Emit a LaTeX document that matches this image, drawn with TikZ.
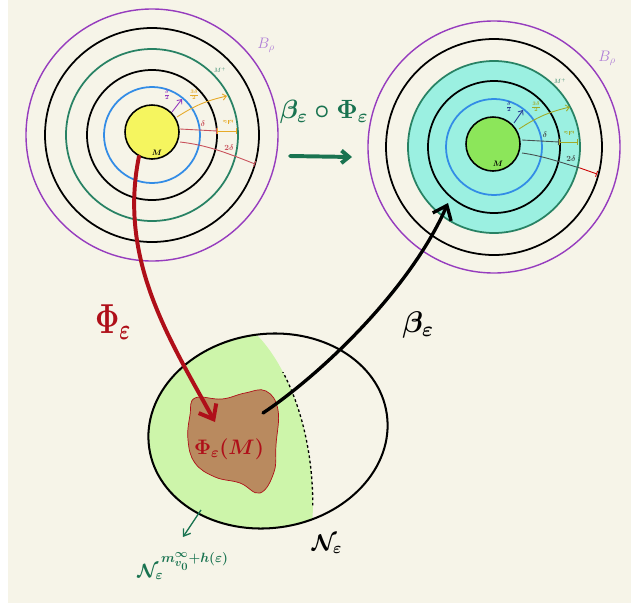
\documentclass[tikz,border=0pt]{standalone}
\usepackage{amsmath,amssymb}
\usepackage{xcolor}
\usetikzlibrary{arrows.meta,positioning,calc}
\definecolor{paper}{RGB}{246,244,232}
\definecolor{ringpurple}{RGB}{150,60,190}
\definecolor{lblpurple}{RGB}{175,125,215}
\definecolor{ringgreen}{RGB}{40,130,100}
\definecolor{ringblue}{RGB}{50,140,230}
\definecolor{diskyellow}{RGB}{245,245,95}
\definecolor{disklime}{RGB}{140,230,90}
\definecolor{cyanfill}{RGB}{155,240,225}
\definecolor{eggfill}{RGB}{205,245,170}
\definecolor{blobbrown}{RGB}{185,138,95}
\definecolor{arrowred}{RGB}{175,15,25}
\definecolor{arrowgreen}{RGB}{25,115,80}
\definecolor{olivetick}{RGB}{160,170,40}
\definecolor{orangetick}{RGB}{230,170,40}
\definecolor{navytick}{RGB}{40,60,150}
\definecolor{pinktick}{RGB}{200,80,90}
\definecolor{graytick}{RGB}{70,80,80}

\begin{document}
\begin{tikzpicture}[x=0.04cm, y=0.04cm,
    ring/.style={line width=2pt},
    ball/.style={circle, draw, line width=1.8pt, minimum size=2.16cm, inner sep=0pt},
    radial/.style={line width=1pt},
    radarrow/.style={radial, -{Straight Barb[length=1.5mm, width=2.5mm]}},
    smalllbl/.style={font=\small\boldmath, inner sep=0pt},
    bigarrow/.style={line width=4.5pt, line cap=round, -{Straight Barb[length=5mm, width=8mm]}},
    bigtext/.style={font=\huge\boldmath, inner sep=0pt, transform shape}
]
    \useasboundingbox (0,0) rectangle (631,-609);
    \fill[white] (0,0) rectangle (631,-609);
    \fill[paper] (8,0) rectangle (631,-603);

    % Left ball B_rho around M
    \begin{scope}[shift={(152,-135)}]
        \draw[ring, ringpurple, line width=1.6pt] (0,0) circle (126);
        \draw[ring] (0,0) circle (107);
        \draw[ring, ringgreen] (0,0) circle (86);
        \draw[ring] (0,0) circle (65);
        \draw[ring, ringblue] (0,0) circle (48);
        \node[ball, fill=diskyellow] (diskL) at (0,3) {};
        \draw[radarrow, ringpurple] (20,23) -- (30,36);
        \draw[radarrow, orangetick] (25,18) to[bend left=10] (75,39);
        \draw[radial, pinktick, -{Bar[width=2.5mm]}] (28,6) -- (65,4);
        \draw[radial, orangetick, {Bar[width=2.5mm]}-{Bar[width=2.5mm]}] (65,4) -- (85,4);
        \draw[radial, pinktick, -{Bar[width=2.5mm]}] (28,-7) .. controls (55,-10) and (75,-18) .. (103,-29);
        \node[smalllbl, text=ringpurple] (halfL) at (15,40) {$\frac{\delta}{2}$};
        \node[smalllbl, text=orangetick] (threeL) at (42,40) {$\frac{3\delta}{2}$};
        \node[smalllbl, text=pinktick] (deltaL) at (51,11) {$\delta$};
        \node[smalllbl, text=orangetick, rotate=90] (gapL) at (76,13) {$\frac{\delta}{2}$};
        \node[smalllbl, text=pinktick] (twoL) at (77,-13) {$2\delta$};
        \node[smalllbl] (mL) at (5,-18) {$M$};
        \node[smalllbl, text=ringgreen, font=\scriptsize] (mplusL) at (68,65) {$M^+$};
        \node[text=lblpurple, font=\LARGE] (brhoL) at (114,90) {$B_\rho$};
    \end{scope}

    % Right ball, image under beta o Phi
    \begin{scope}[shift={(494,-147)}]
        \fill[cyanfill] (0,0) circle (86);
        \draw[ring, ringpurple, line width=1.6pt] (0,0) circle (126);
        \draw[ring] (0,0) circle (108);
        \draw[ring, ringgreen] (0,0) circle (86);
        \draw[ring] (0,0) circle (66);
        \draw[ring, ringblue] (0,0) circle (48);
        \node[ball, fill=disklime] (diskR) at (-1,3) {};
        \draw[radarrow, navytick] (20,24) -- (29,37);
        \draw[radarrow, olivetick] (25,18) to[bend left=10] (76,40);
        \draw[radial, graytick, -{Bar[width=2.5mm]}] (28,7) -- (65,5);
        \draw[radial, olivetick, {Bar[width=2.5mm]}-{Bar[width=2.5mm]}] (65,5) -- (84,5);
        \draw[radial, graytick] (28,-6) .. controls (50,-9) and (68,-16) .. (86,-21);
        \draw[radial, red!80!black, -{Bar[width=2.5mm]}] (86,-21) -- (103,-27);
        \node[smalllbl, text=navytick] (halfR) at (15,40) {$\frac{\delta}{2}$};
        \node[smalllbl, text=olivetick] (threeR) at (42,40) {$\frac{3\delta}{2}$};
        \node[smalllbl, text=graytick] (deltaR) at (51,12) {$\delta$};
        \node[smalllbl, text=olivetick, rotate=90] (gapR) at (75,14) {$\frac{\delta}{2}$};
        \node[smalllbl, text=graytick] (twoR) at (77,-12) {$2\delta$};
        \node[smalllbl] (mR) at (4,-17) {$M$};
        \node[smalllbl, text=ringgreen, font=\scriptsize] (mplusR) at (66,66) {$M^+$};
        \node[text=lblpurple, font=\LARGE] (brhoR) at (113,89) {$B_\rho$};
    \end{scope}

    % Neighbourhood N_eps with the shaded part
    \begin{scope}
        \clip[rotate around={8:(268,-431)}] (268,-431) ellipse [x radius=120, y radius=97];
        \fill[eggfill] (120,-300) -- (258,-336) .. controls (290,-370) and (318,-440) .. (312,-530) -- (120,-560) -- cycle;
    \end{scope}
    \begin{scope}
        \clip (250,-372) rectangle (330,-506);
        \draw[dashed, line width=1.5pt] (258,-336) .. controls (290,-370) and (318,-440) .. (312,-530);
    \end{scope}
    \draw[line width=2.3pt, rotate around={8:(268,-431)}] (268,-431) ellipse [x radius=120, y radius=97];
    \fill[blobbrown, draw=arrowred, line width=0.8pt] plot[smooth cycle, tension=0.7] coordinates
        {(195,-398) (222,-399) (245,-393) (266,-391) (278,-410) (276,-445) (274,-472)
         (260,-493) (240,-483) (215,-477) (195,-463) (188,-440) (190,-415)};
    \node[bigtext, text=arrowred, scale=1.15] (blobLbl) at (229,-449) {$\Phi_\varepsilon(M)$};
    \coordinate (phiTip) at (215,-422);
    \coordinate (blobc) at (263,-413);
    \coordinate (tgtR) at (448,-203);
    \coordinate (compL) at (290,-156);
    \coordinate (compR) at (352,-157);
    \coordinate (ngTail) at (201,-510);
    \coordinate (ngHead) at (183,-537);

    % Maps
    \draw[bigarrow, arrowred] (diskL.-118) .. controls (118,-260) and (170,-340) .. (phiTip);
    \draw[bigarrow, black, line width=3.8pt] (blobc) .. controls (320,-375) and (410,-290) .. (tgtR);
    \draw[bigarrow, arrowgreen, -{Straight Barb[length=3mm, width=5mm]}] (compL) -- (compR);
    \draw[arrowgreen, line width=1.5pt, -{Straight Barb[length=2.5mm, width=3.5mm]}] (ngTail) -- (ngHead);

    % Labels
    \node[bigtext, text=arrowred, xscale=1.64, yscale=2.3] (phiLbl) at (113,-322) {$\Phi_\varepsilon$};
    \node[bigtext, text=arrowgreen, scale=1.45] (compLbl) at (324,-112) {$\beta_\varepsilon\circ\Phi_\varepsilon$};
    \node[bigtext, scale=1.64] (betaLbl) at (418,-325) {$\beta_\varepsilon$};
    \node[bigtext, scale=1.25] (nLbl) at (327,-544) {$\mathcal{N}_\varepsilon$};
    \node[bigtext, text=arrowgreen, scale=1.06] (nmLbl) at (183,-566) {$\mathcal{N}_\varepsilon^{\,m^\infty_{v_0}+h(\varepsilon)}$};
\end{tikzpicture}
\end{document}
